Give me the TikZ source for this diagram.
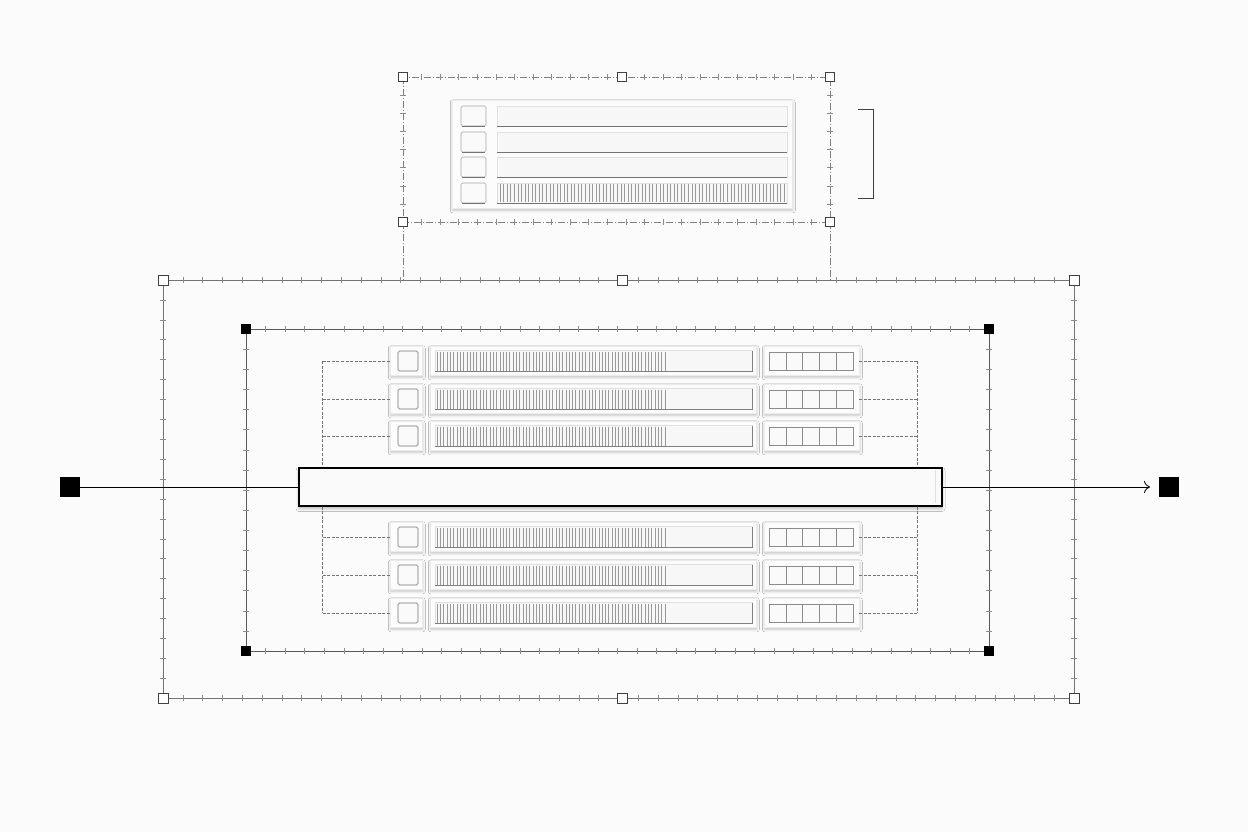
\documentclass[tikz,border=0pt]{standalone}
\usetikzlibrary{shadows.blur,arrows.meta}
\begin{document}
\begin{tikzpicture}[x=1pt,y=-1pt,
  frameline/.style={draw=black!55,line width=0.7},
  tick/.style={draw=black!45,line width=0.45},
  dd/.style={draw=black!50,line width=0.5,dash pattern=on 7pt off 2pt on 1pt off 2pt},
  wh/.style={draw=black!75,fill=white,line width=0.8,minimum size=9,inner sep=0,outer sep=0},
  bh/.style={fill=black,minimum size=10,inner sep=0,outer sep=0},
  card/.style={fill=white!99!black,draw=black!8,line width=0.4,inner sep=0,outer sep=0,
    blur shadow={shadow xshift=0.8pt,shadow yshift=-1.8pt,shadow blur radius=2.5pt,shadow opacity=22}},
  sqb/.style={draw=black!55,fill=white!98!black,rounded corners=1.5,line width=0.6},
  barin/.style={fill=white!97!black,draw=black!12,line width=0.4},
  hatch/.style={draw=black!40,line width=0.35},
  dline/.style={draw=black!55,line width=0.5,dash pattern=on 3pt off 1.6pt},
  mainline/.style={draw=black,line width=0.8}]
\useasboundingbox[fill=white!98.5!black] (0,0) rectangle (1248,832);

\newcommand\hticks[4]{\pgfmathsetmacro\tstep{(#2-#1)/(#4+1)}\foreach \i in {1,...,#4}{\draw[tick] ({#1+\i*\tstep},#3-3) -- ++(0,6);}}
\newcommand\vticks[4]{\pgfmathsetmacro\tstep{(#2-#1)/(#4+1)}\foreach \i in {1,...,#4}{\draw[tick] (#3-3,{#1+\i*\tstep}) -- ++(6,0);}}

% ---------- top panel frame ----------
\draw[dd] (403,77) rectangle (830,222);
\draw[dd] (403,222) -- (403,280);
\draw[dd] (830,222) -- (830,280);
\hticks{403}{830}{77}{22}
\hticks{403}{830}{222}{22}
\vticks{77}{222}{403}{7}
\vticks{77}{222}{830}{7}

% top panel card
\node[card,minimum width=340,minimum height=108] (tcard) at (622,154.5) {};
\foreach \yy/\nm in {116/ta,142/tb,167/tc,193/td}{
  \draw[sqb,draw=black!35] (461,\yy-10) rectangle (486,\yy+10);
  \draw[draw=black!55,line width=0.6] (462,\yy+10) -- (485,\yy+10);
  \draw[barin] (497,\yy-10) rectangle (787,\yy+10);
  \draw[draw=black!55,line width=0.7] (497,\yy+10) -- (787,\yy+10);
}
\foreach \k in {0,...,80}{\draw[hatch] ({500+\k*3.55},184) -- ++(0,18);}
\draw[draw=black!75,line width=0.9] (858,109) -- (873,109) -- (873,198) -- (858,198);

\node[wh] (tp1) at (403,77) {};
\node[wh] (tp2) at (622,77) {};
\node[wh] (tp3) at (830,77) {};
\node[wh] (tp4) at (403,222) {};
\node[wh] (tp5) at (830,222) {};

% ---------- outer frame ----------
\draw[frameline] (163,280) rectangle (1074,698);
\hticks{163}{1074}{280}{45}
\hticks{163}{1074}{698}{45}
\vticks{280}{698}{163}{20}
\vticks{280}{698}{1074}{20}

% ---------- inner frame ----------
\draw[frameline,draw=black!65] (246,329) rectangle (989,651);
\hticks{246}{989}{329}{37}
\hticks{246}{989}{651}{37}
\vticks{329}{651}{246}{15}
\vticks{329}{651}{989}{15}

% ---------- main line ----------
\node[bh,minimum size=20] (lsq) at (70,487) {};
\node[bh,minimum size=20] (rsq) at (1169,487) {};
\coordinate (L) at (322,487);
\coordinate (R) at (917,487);

% ---------- rows ----------
\newcommand\rowunit[2]{%
  \node[card,minimum width=32,minimum height=29] (#2a) at (406,#1) {};
  \draw[sqb] (398,#1-10) rectangle (418,#1+10);
  \node[card,minimum width=326,minimum height=29] (#2b) at (593,#1) {};
  \draw[barin] (435,#1-10.5) rectangle (752,#1+10.5);
  \draw[draw=black!50,line width=0.6] (435,#1+10.5) -- (752,#1+10.5) -- (752,#1-10.5);
  \foreach \k in {0,...,69}{\draw[hatch] ({437+\k*3.3},#1-9.5) -- ++(0,19);}
  \node[card,minimum width=95,minimum height=29] (#2c) at (811.5,#1) {};
  \foreach \k in {0,...,4}{\draw[draw=black!45,fill=white!98!black,line width=0.5] ({769+\k*16.8},#1-9) rectangle ++(16.8,18);}
  \draw[dline] (#2a.west) -- (#2a.west -| L);
  \draw[dline] (#2c.east) -- (#2c.east -| R);
}
\rowunit{361}{ra}
\rowunit{399}{rb}
\rowunit{436}{rc}
\rowunit{537}{rd}
\rowunit{575}{re}
\rowunit{613}{rf}

% central bar
\node[draw=black,line width=2,fill=white!98!black,minimum width=643,minimum height=38,inner sep=0,
  blur shadow={shadow xshift=0pt,shadow yshift=-3pt,shadow blur radius=3pt,shadow opacity=28}] (bar) at (620.5,486.5) {};
\draw[draw=black!12,line width=0.5] (935,470) -- (935,503);

\draw[dline] (raa.west -| L) -- (L |- bar.north);
\draw[dline] (L |- bar.south) -- (rfa.west -| L);
\draw[dline] (rac.east -| R) -- (R |- bar.north);
\draw[dline] (R |- bar.south) -- (rfc.east -| R);

\draw[mainline] (lsq.east) -- (lsq.east -| bar.west);
\draw[mainline,-{To[length=6,width=12]},shorten >=9pt] (rsq.west -| bar.east) -- (rsq.west);

% handles
\node[wh,minimum size=10] (o1) at (163,280) {};
\node[wh,minimum size=10] (o2) at (622,280) {};
\node[wh,minimum size=10] (o3) at (1074,280) {};
\node[wh,minimum size=10] (o4) at (163,698) {};
\node[wh,minimum size=10] (o5) at (622,698) {};
\node[wh,minimum size=10] (o6) at (1074,698) {};
\node[bh] (i1) at (246,329) {};
\node[bh] (i2) at (989,329) {};
\node[bh] (i3) at (246,651) {};
\node[bh] (i4) at (989,651) {};
\end{tikzpicture}
\end{document}
